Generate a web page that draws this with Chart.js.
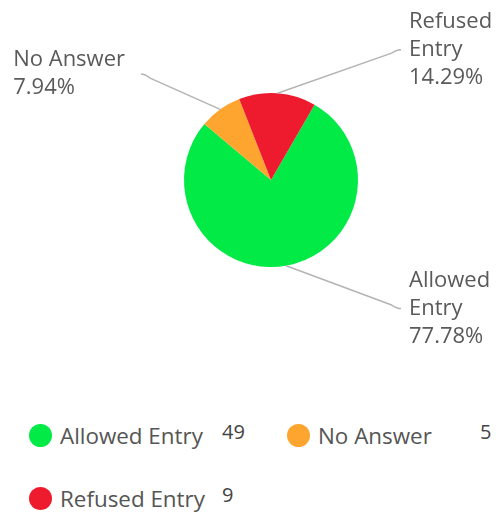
<!DOCTYPE html>
<html>
<head>
<meta charset="utf-8">
<script src="https://cdn.jsdelivr.net/npm/chart.js@4"></script>
<style>
  body { margin: 0; background: #fff; font-family: "Open Sans", sans-serif; }
  #wrap { position: relative; width: 499px; height: 512px; overflow: hidden; }
  #chartBox { position: absolute; left: 0; top: 0; width: 499px; height: 400px; }
  #legend { position: absolute; left: 29px; top: 423px; width: 530px; display: flex; flex-wrap: wrap; }
  .item { position: relative; width: 258px; height: 63px; display: flex; align-items: flex-start; }
  .dot { width: 23px; height: 23px; border-radius: 50%; margin-top: 1px; }
  .lbl { margin-left: 8px; font-size: 22.4px; line-height: 25px; color: #555; }
  .val { position: absolute; left: 193px; top: -2px; font-size: 20px; line-height: 22px; color: #444; }
</style>
</head>
<body>
<div id="wrap">
  <div id="chartBox"><canvas id="chart"></canvas></div>
  <div id="legend"></div>
</div>
<script>
const categories = ['Allowed Entry', 'No Answer', 'Refused Entry'];
const counts = [49, 5, 9];
const colors = ['#02EA46', '#FDA52F', '#EE1A2E'];

const total = counts.reduce((a, b) => a + b, 0);

// outside labels with leader lines
const outsideLabels = {
    id: 'outsideLabels',
    afterDraw(chart) {
        const ctx = chart.ctx;
        const meta = chart.getDatasetMeta(0);
        ctx.save();
        ctx.font = '22px "Open Sans"';
        ctx.textBaseline = 'middle';
        meta.data.forEach((arc, i) => {
            const p = arc.getProps(['x', 'y', 'startAngle', 'endAngle', 'outerRadius'], true);
            const mid = (p.startAngle + p.endAngle) / 2;
            const r = p.outerRadius;
            const ex = p.x + Math.cos(mid) * r;
            const ey = p.y + Math.sin(mid) * r;
            const right = Math.cos(mid) >= 0;
            const side = right ? 1 : -1;
            const endX = p.x + side * (r + 43);
            const endY = p.y + Math.sin(mid) * r * 1.5;

            // leader line
            const dx = endX - ex, dy = endY - ey;
            const len = Math.sqrt(dx * dx + dy * dy);
            ctx.strokeStyle = '#b4b4b4';
            ctx.lineWidth = 1.5;
            ctx.beginPath();
            ctx.moveTo(ex, ey);
            ctx.lineTo(endX - dx / len * 10, endY - dy / len * 10);
            ctx.quadraticCurveTo(endX - side * 4, endY, endX, endY);
            ctx.stroke();

            // text, wrapped to fit
            const pct = (counts[i] / total * 100).toFixed(2) + '%';
            const maxW = right ? chart.width - endX - 10 : endX - 16;
            const words = categories[i].split(' ');
            const lines = [];
            let cur = '';
            words.forEach(w => {
                const t = cur ? cur + ' ' + w : w;
                if (cur && ctx.measureText(t).width > maxW) {
                    lines.push(cur);
                    cur = w;
                } else {
                    cur = t;
                }
            });
            lines.push(cur);
            lines.push(pct);
            const blockW = Math.max(...lines.map(l => ctx.measureText(l).width));
            const tx = right ? endX + 8 : endX - 16 - blockW;
            const lh = 28;
            const y0 = endY - (lines.length - 1) * lh / 2;
            ctx.fillStyle = '#5a5a5a';
            ctx.textAlign = 'left';
            lines.forEach((l, k) => ctx.fillText(l, tx, y0 + k * lh));
        });
        ctx.restore();
    }
};

new Chart(document.getElementById('chart'), {
    type: 'pie',
    data: {
        labels: categories,
        datasets: [{
            data: counts,
            backgroundColor: colors,
            borderWidth: 0
        }]
    },
    options: {
        responsive: true,
        maintainAspectRatio: false,
        animation: false,
        rotation: 30,
        layout: { padding: { left: 140, right: 97, top: 93, bottom: 133 } },
        plugins: {
            legend: { display: false },
            tooltip: { enabled: false }
        }
    },
    plugins: [outsideLabels]
});

// html legend with values
const legend = document.getElementById('legend');
categories.forEach((c, i) => {
    const item = document.createElement('div');
    item.className = 'item';
    item.innerHTML = '<div class="dot" style="background:' + colors[i] + '"></div>' +
        '<div class="lbl">' + c + '</div><div class="val">' + counts[i] + '</div>';
    legend.appendChild(item);
});
</script>
</body>
</html>
